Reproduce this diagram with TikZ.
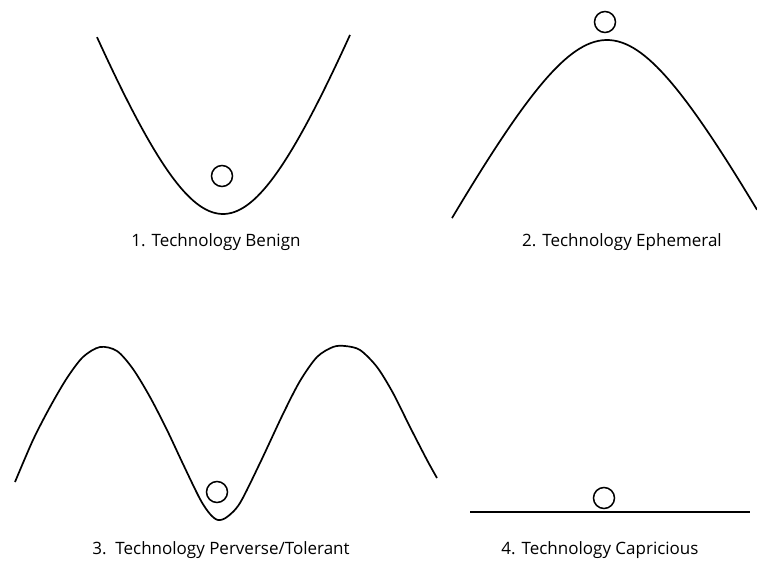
\documentclass[tikz,border=0pt]{standalone}
\usepackage{fontspec}
\setmainfont{Open Sans}
\usepackage{tikz}

\begin{document}
\begin{tikzpicture}[x=1pt, y=-1pt,
    curve/.style={draw=black, line width=1.7pt, line join=round},
    ball/.style={draw=black, line width=1.5pt, circle, minimum size=21pt, inner sep=0pt, fill=white},
    caption/.style={font=\fontsize{17}{19}\selectfont, anchor=base}]

\useasboundingbox (0,0) rectangle (757,567);

% 1: valley
\draw[curve] plot[domain=97:350, samples=80]
    (\x, {214 - 2.64*(100*sqrt(0.7225+((\x-223)/100)^2) - 85)});
\node[ball] (ball1) at (222,176) {};
\node[caption] (cap1) at (216,246) {1. Technology Benign};

% 2: hill
\draw[curve] plot[domain=452:757, samples=80]
    (\x, {40 + 1.886*(100*sqrt(0.64+((\x-607)/100)^2) - 80)});
\node[ball] (ball2) at (605,22) {};
\node[caption] (cap2) at (622,246) {2. Technology Ephemeral};

% 3: two hills with a valley between
\draw[curve] plot[smooth] coordinates {
    (15,482) (33,440) (50,407) (67,378) (83,357) (100,347) (117,351)
    (133,369) (150,397) (167,430) (183,464) (200,499) (210,514) (218,520)
    (227,517) (240,503) (260,463) (283,414) (300,381) (317,357) (333,347)
    (345,346) (360,350) (377,367) (393,393) (410,427) (427,460) (437,478)};
\node[ball] (ball3) at (217,492) {};
\node[caption] (cap3) at (221,554) {3.\ \ Technology Perverse/Tolerant};

% 4: flat
\coordinate (flatL) at (470,512);
\coordinate (flatR) at (750,512);
\draw[curve] (flatL) -- (flatR);
\node[ball] (ball4) at (604,498) {};
\node[caption] (cap4) at (600,554) {4. Technology Capricious};
\end{tikzpicture}
\end{document}
